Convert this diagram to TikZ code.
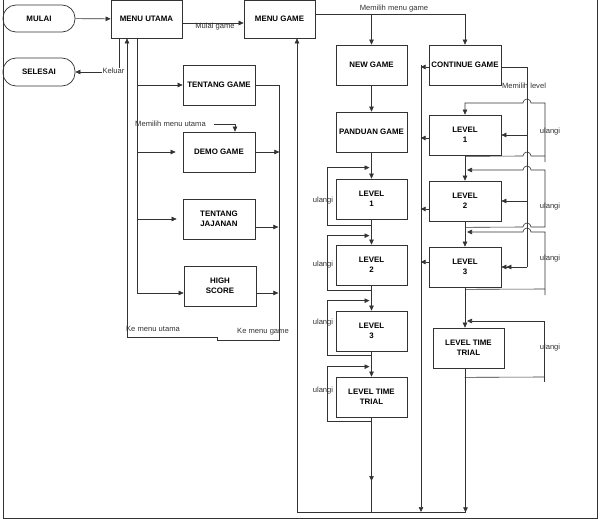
\documentclass[tikz,border=0pt]{standalone}
\usepackage{fontspec}
\setmainfont{Liberation Sans}
\usetikzlibrary{arrows.meta,positioning}
\tikzset{
  box/.style={draw=black!80, rectangle, align=center, font=\fontsize{7.9}{9.5}\selectfont\bfseries, minimum width=71pt, minimum height=40pt, inner sep=1pt, line width=0.7pt},
  term/.style={box, rounded corners=13pt, minimum width=72pt, minimum height=27pt},
  lbl/.style={font=\fontsize{7.6}{9}\selectfont, text=black!80, inner sep=0.5pt},
  ln/.style={line width=0.6pt, draw=black!80},
  arr/.style={ln, -{Triangle[length=5pt,width=4.5pt]}},
  darr/.style={ln, -{Triangle[length=5pt,width=4.5pt]Triangle[length=5pt,width=4.5pt]}},
}
\begin{document}
\begin{tikzpicture}[x=1pt,y=-1pt]
\useasboundingbox (0,0) rectangle (603,519);
\newcommand{\ulangikiri}[4]{\draw[arr] ([yshift=-#2pt]#1.south) -- ++(-44.5,0) |- ([xshift=-2pt,yshift=#3pt]#1.north); \node[lbl] (u#1) at (323,#4) {ulangi};}
\draw[ln] (3,-2) rectangle (597,518);
% menu utama side
\node[term] (mulai) at (39,18.5) {MULAI};
\node[term, minimum height=28pt] (selesai) at (39,72) {SELESAI};
\node[box, minimum height=38pt] (mu) at (146.5,19) {MENU UTAMA};
\node[box, minimum height=38pt] (mg) at (279.5,19) {MENU GAME};
\node[box, minimum width=72pt] (tg) at (219,85) {TENTANG GAME};
\node[box, minimum width=72pt] (dg) at (219,152) {DEMO GAME};
\node[box, minimum width=72pt] (tj) at (219,219) {TENTANG\\JAJANAN};
\node[box, minimum width=72pt] (hs) at (220,286) {HIGH\\SCORE};
% menu game side
\node[box] (ng) at (371.5,65) {NEW GAME};
\node[box, minimum width=72pt] (cg) at (465,65) {CONTINUE GAME};
\node[box] (pg) at (371.5,132) {PANDUAN GAME};
\node[box] (la1) at (371.5,199) {LEVEL\\1};
\node[box] (la2) at (371.5,265) {LEVEL\\2};
\node[box] (la3) at (371.5,331) {LEVEL\\3};
\node[box] (lat) at (371.5,397) {LEVEL TIME\\TRIAL};
\node[box, minimum width=72pt] (lb1) at (465,135) {LEVEL\\1};
\node[box, minimum width=72pt] (lb2) at (465,201) {LEVEL\\2};
\node[box, minimum width=72pt] (lb3) at (465,267) {LEVEL\\3};
\node[box] (lbt) at (468.5,348) {LEVEL TIME\\TRIAL};
\coordinate (spine) at (137,0);
\coordinate (back) at (279,0);
\coordinate (lv) at (527,0);
\coordinate (cl) at (421,0);
\coordinate (bl) at (297,512);
% connectors left
\draw[arr] (mulai) -- (mu);
\draw[arr] ([yshift=-4pt]mu.east) -- ([yshift=-4pt]mg.west);
\node[lbl] (lmulai) at (215,27) {Mulai game};
\draw[arr] ([xshift=-27.5pt]mu.south) |- (selesai.east);
\node[lbl, fill=white] (lkeluar) at (113.5,71) {Keluar};
\draw[arr] ([xshift=-9.5pt]mu.south) |- ([yshift=-7pt]hs.west);
\draw[arr] (spine |- tg.west) -- (tg.west);
\draw[arr] (spine |- dg.west) -- ([xshift=-7pt]dg.west);
\draw[arr] (spine |- tj.west) -- ([xshift=-6pt]tj.west);
\draw[arr] (tg.east) -| (back |- 0,340) -- (217,340) -- (217,337) -| ([xshift=-19.5pt]mu.south);
\draw[arr] (dg.east) -- ++(24,0);
\draw[arr] ([yshift=-8pt]tj.east) -- ++(23,0);
\draw[arr] ([yshift=-7pt]hs.east) -- ++(22,0);
\node[lbl] (lkmu) at (153,329) {Ke menu utama};
\node[lbl] (lkmg) at (263,332) {Ke menu game};
\node[lbl] (lmmu) at (170.5,124) {Memilih menu utama};
\draw[arr] ([xshift=8pt]lmmu.east) -| ([xshift=16pt]dg.north);
% connectors right
\draw[arr] (bl) -- ([xshift=17.5pt]mg.south);
\draw[arr] ([yshift=5pt]mg.east) -| (cg.north);
\draw[arr] (ng.north |- 0,14) -- (ng.north);
\node[lbl] (lmmg) at (394,9) {Memilih menu game};
\draw[arr] (ng) -- (pg);
\draw[arr] (pg) -- (la1);
\draw[arr] (la1) -- (la2);
\draw[arr] (la2) -- (la3);
\draw[arr] (la3) -- (lat);
\ulangikiri{la1}{6}{11}{201}
\ulangikiri{la2}{5}{9}{265}
\ulangikiri{la3}{4}{10}{323}
\ulangikiri{lat}{4}{10}{391}
\draw[ln] (lat.south) -- (lat.south |- bl);
\draw[arr] (lat.south) -- (lat.south |- 0,481);
\draw[ln] (bl) -- ++(169,0);
\draw[arr] ([xshift=-3pt]lbt.south) -- ++(0,144);
\draw[arr] (cl |- cg.west) -- (cl |- bl);
\draw[arr] ([yshift=-2pt]cg.west) -- ++(-8,0);
\draw[arr] ([yshift=-3pt]lb1.west) -- ++(-8,0);
\draw[arr] ([yshift=-8pt]lb2.west) -- ++(-8,0);
\draw[arr] ([yshift=5pt]lb3.west) -- ++(-8,0);
\draw[ln] ([yshift=-2pt]cg.east) -| (lv |- lb3.east);
\node[lbl] (lml) at (524,86) {Memilih level};
\draw[arr] (lv |- lb1.east) -- (lb1.east);
\draw[arr] (lv |- lb2.east) -- (lb2.east);
\draw[darr] (lv |- lb3.east) -- (lb3.east);
\draw[arr] (lb1) -- (lb2);
\draw[arr] (lb2) -- (lb3);
\draw[arr] (lb3.south) -- (lb3.south |- lbt.north);
% ulangi loops right
\draw[ln] ([yshift=-1pt]lb1.south) -- (523,156) arc[start angle=180,end angle=360,radius=4] -- (545,156);
\draw[arr] (545,162) -- (545,103) -- (531,103) arc[start angle=360,end angle=180,radius=4] -- (lb1.north |- 0,103) -- (lb1.north);
\draw[arr] ([yshift=-6pt]lb2.south) -- (523,227) arc[start angle=180,end angle=360,radius=4] -- (545,227) -- (545,170) -- (531,170) arc[start angle=360,end angle=180,radius=4] -- (467,170);
\draw[ln] ([yshift=-2pt]lb3.south) -- (545,289);
\draw[arr] (545,295) -- (545,232) -- (531,232) arc[start angle=360,end angle=180,radius=4] -- (467,232);
\draw[ln] ([xshift=-4pt,yshift=-9pt]lbt.south) -- (544,377);
\draw[arr] (544,382) -- (544,321) -- (467,321);
\node[lbl] (ur1) at (550,132) {ulangi};
\node[lbl] (ur2) at (550,207) {ulangi};
\node[lbl] (ur3) at (550,259) {ulangi};
\node[lbl] (ur4) at (550,348) {ulangi};
\end{tikzpicture}
\end{document}
